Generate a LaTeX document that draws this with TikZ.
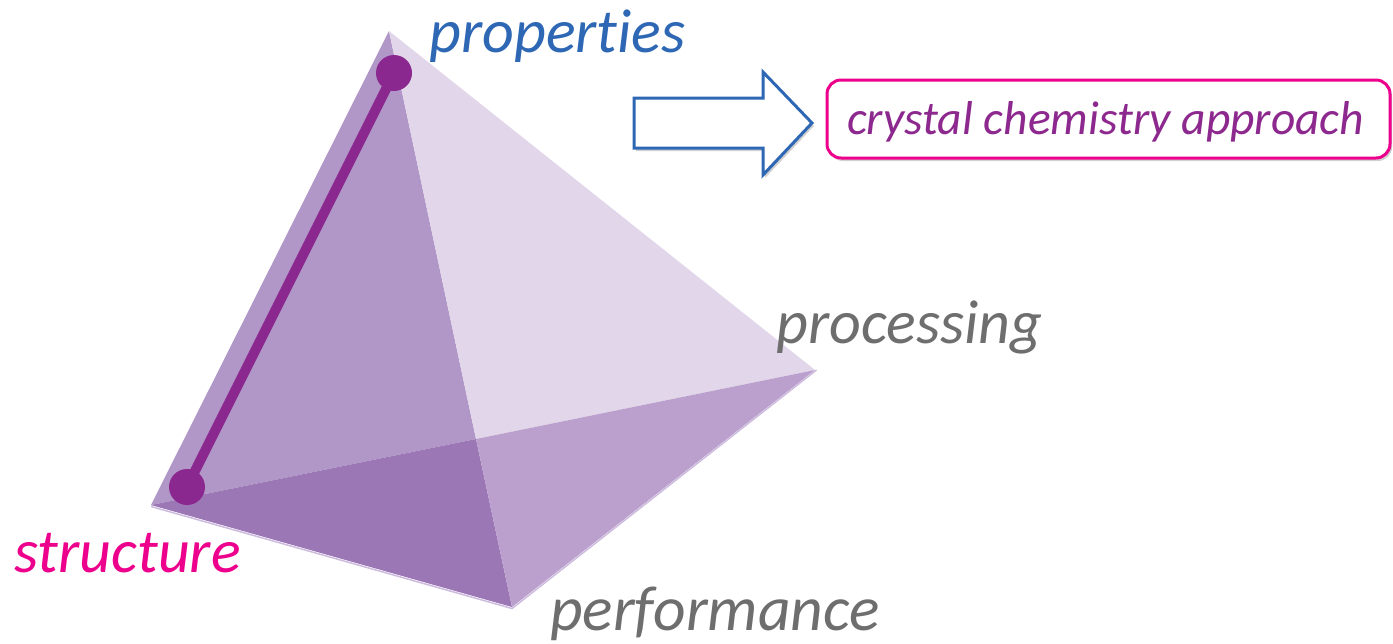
\documentclass[tikz,border=0pt]{standalone}
\usepackage{fontspec}
\setmainfont{Carlito}[Ligatures=NoCommon]
\usetikzlibrary{shadows}
\definecolor{faceA}{RGB}{177,151,199}
\definecolor{faceB}{RGB}{225,214,234}
\definecolor{faceC}{RGB}{156,119,182}
\definecolor{faceD}{RGB}{187,160,205}
\definecolor{rim}{RGB}{205,188,222}
\definecolor{edgepurple}{RGB}{139,40,143}
\definecolor{propblue}{RGB}{46,103,180}
\definecolor{pinkc}{RGB}{236,0,140}
\definecolor{grayc}{RGB}{110,110,110}
\definecolor{textpurple}{RGB}{140,40,142}
\begin{document}
\begin{tikzpicture}[x=1pt,y=-1pt,
  lbl/.style={inner sep=0pt,anchor=base west,font=\fontsize{62}{72}\selectfont\itshape},
  dotnode/.style={circle,fill=edgepurple,minimum size=36pt,inner sep=0pt},
  softshadow/.style={drop shadow={shadow xshift=2pt,shadow yshift=-3pt,opacity=0.3,fill=black!60}}]
\useasboundingbox (0,0) rectangle (1393,643);
% vertices
\coordinate (T) at (389,31);
\coordinate (L) at (151,505);
\coordinate (B) at (512,607);
\coordinate (R) at (815,370);
\coordinate (P) at (476,439);
% faces
\fill[faceA] (T) -- (L) -- (P) -- cycle;
\fill[faceB] (T) -- (P) -- (R) -- cycle;
\fill[faceC] (L) -- (B) -- (P) -- cycle;
\fill[faceD] (P) -- (B) -- (R) -- cycle;
\draw[rim,line width=1.5pt] ([yshift=-1.5pt]L) -- ([yshift=-1.5pt]B) -- ([xshift=1.5pt]R);
% edge structure-properties
\node[dotnode] (dtop) at (394,73) {};
\node[dotnode] (dbot) at (187,487) {};
\draw[edgepurple,line width=10pt] (dtop.center) -- (dbot.center);
% labels
\node[lbl,text=propblue] (prop) at (429,52) {properties};
\node[lbl,text=grayc] (proc) at (776,343) {processing};
\node[lbl,text=grayc,font=\fontsize{63.5}{72}\selectfont\itshape] (perf) at (550,630) {performance};
\node[lbl,text=pinkc] (struc) at (14,572) {structure};
% arrow
\draw[propblue,line width=3pt,fill=white,softshadow,line join=miter]
  (634,98) -- (763,98) -- (763,72) -- (812,123) -- (763,175) -- (763,148) -- (634,148) -- cycle;
% box
\node[draw=pinkc,line width=3pt,rounded corners=14pt,minimum width=563pt,minimum height=78pt,
  fill=white,softshadow] (box) at (1108.5,119) {};
\node[inner sep=0pt,anchor=base west,text=textpurple,font=\fontsize{47.5}{56}\selectfont\itshape]
  (approach) at (847,134) {crystal chemistry approach};
\end{tikzpicture}
\end{document}
